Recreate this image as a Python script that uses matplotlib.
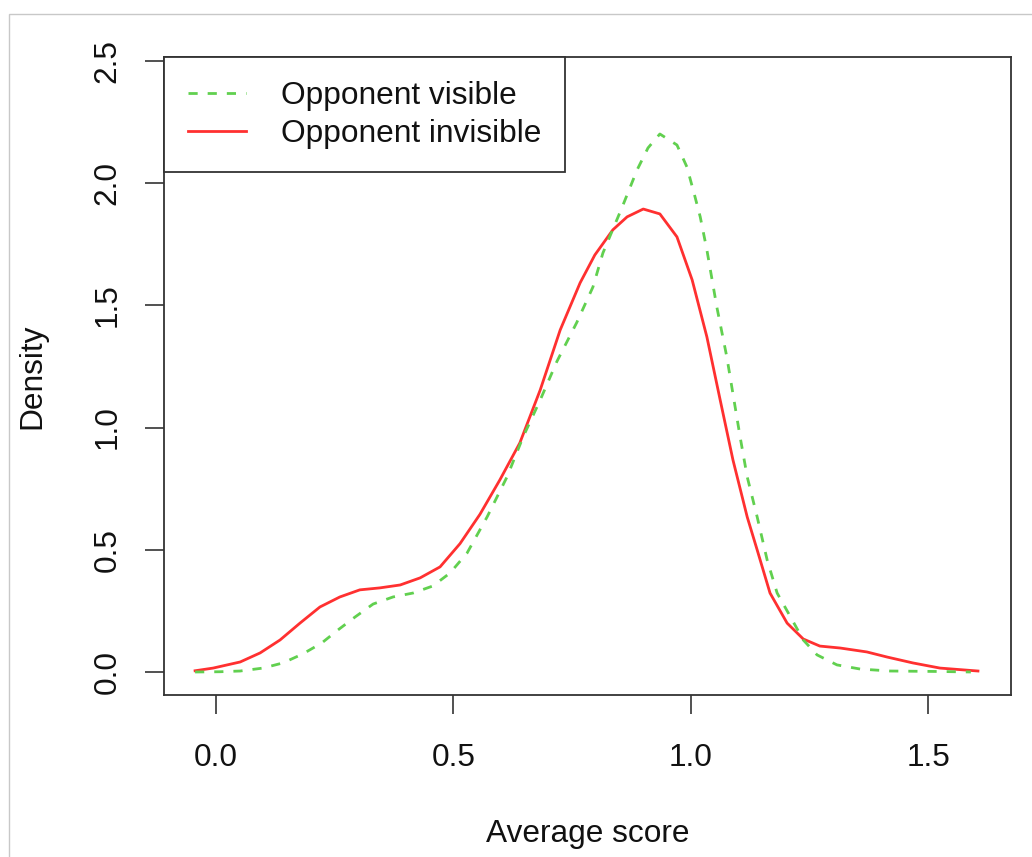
import numpy as np
import matplotlib.pyplot as plt
from matplotlib.patches import Rectangle

plt.rcParams['font.family'] = ['Liberation Sans', 'DejaVu Sans']

# density curves
xInvisible = [-0.044, -0.006, 0.051, 0.093, 0.135, 0.177, 0.219, 0.261, 0.303, 0.345,
              0.388, 0.430, 0.472, 0.514, 0.556, 0.598, 0.640, 0.683, 0.725, 0.767,
              0.798, 0.836, 0.866, 0.900, 0.935, 0.971, 1.003, 1.034, 1.062, 1.089,
              1.119, 1.140, 1.167, 1.203, 1.237, 1.272, 1.315, 1.371, 1.414, 1.468,
              1.525, 1.605]
yInvisible = [0.005, 0.016, 0.041, 0.078, 0.131, 0.200, 0.266, 0.307, 0.336, 0.344,
              0.356, 0.385, 0.430, 0.525, 0.645, 0.786, 0.937, 1.154, 1.399, 1.592,
              1.706, 1.809, 1.862, 1.894, 1.874, 1.780, 1.604, 1.371, 1.113, 0.867,
              0.634, 0.499, 0.323, 0.200, 0.135, 0.106, 0.098, 0.082, 0.061, 0.037,
              0.016, 0.004]

xVisible = [-0.044, 0.008, 0.051, 0.099, 0.141, 0.183, 0.223, 0.257, 0.293, 0.331,
            0.373, 0.415, 0.457, 0.493, 0.529, 0.571, 0.613, 0.647, 0.683, 0.718,
            0.760, 0.794, 0.815, 0.855, 0.887, 0.910, 0.935, 0.971, 0.992, 1.009,
            1.020, 1.034, 1.055, 1.076, 1.104, 1.119, 1.140, 1.161, 1.182, 1.216,
            1.237, 1.266, 1.308, 1.357, 1.420, 1.525, 1.590]
yVisible = [0.000, 0.001, 0.004, 0.016, 0.037, 0.074, 0.119, 0.172, 0.225, 0.278,
            0.307, 0.323, 0.352, 0.405, 0.487, 0.634, 0.798, 0.962, 1.113, 1.270,
            1.430, 1.575, 1.714, 1.899, 2.054, 2.144, 2.201, 2.156, 2.066, 1.944,
            1.862, 1.727, 1.493, 1.289, 0.962, 0.798, 0.634, 0.458, 0.323, 0.205,
            0.131, 0.070, 0.029, 0.012, 0.004, 0.002, 0.000]

labels = ['Opponent visible', 'Opponent invisible']
xticks = [0.0, 0.5, 1.0, 1.5]
yticks = [0.0, 0.5, 1.0, 1.5, 2.0, 2.5]

fs = 22.8
edge = '#333333'

fig = plt.figure(figsize=(10.32, 8.57), dpi=100)
fig.add_artist(Rectangle((9/1032, -0.1), 1.2, 1.1 - 14/857, transform=fig.transFigure,
                         fill=False, edgecolor='#c8c8c8', linewidth=1))
ax = fig.add_axes([0.1589, 0.1885, 0.8208, 0.745])

lineInv, = ax.plot(xInvisible, yInvisible, color='#FF3030', lw=2)
lineVis, = ax.plot(xVisible, yVisible, color='#61D04F', lw=2, dashes=(3.3, 3.6))

ax.set_xlim(-0.1095, 1.6747)
ax.set_ylim(-0.096, 2.516)
ax.set_xticks(xticks)
ax.set_xticklabels(['{:.1f}'.format(v) for v in xticks])
ax.set_yticks(yticks)
ax.set_yticklabels(['{:.1f}'.format(v) for v in yticks], rotation=90, va='center')

for s in ax.spines.values():
    s.set_color(edge)
    s.set_linewidth(1.3)
ax.tick_params(axis='both', direction='out', length=14, width=1.2, color=edge,
               labelsize=fs, labelcolor='#111111')
ax.tick_params(axis='x', pad=20)
ax.tick_params(axis='y', pad=16)

ax.set_xlabel('Average score', size=fs, color='#111111', labelpad=33)
ax.set_ylabel('Density', size=fs, color='#111111', labelpad=32)

leg = ax.legend([lineVis, lineInv], labels, loc='upper left', bbox_to_anchor=(0, 1),
                borderaxespad=0, fancybox=False, framealpha=1, edgecolor=edge,
                fontsize=fs, handlelength=1.83, handletextpad=1.1, borderpad=0.75,
                labelspacing=0.25)
leg.get_frame().set_linewidth(1.3)
for t in leg.get_texts():
    t.set_color('#111111')

plt.savefig('out.png', dpi=100)
plt.close()
